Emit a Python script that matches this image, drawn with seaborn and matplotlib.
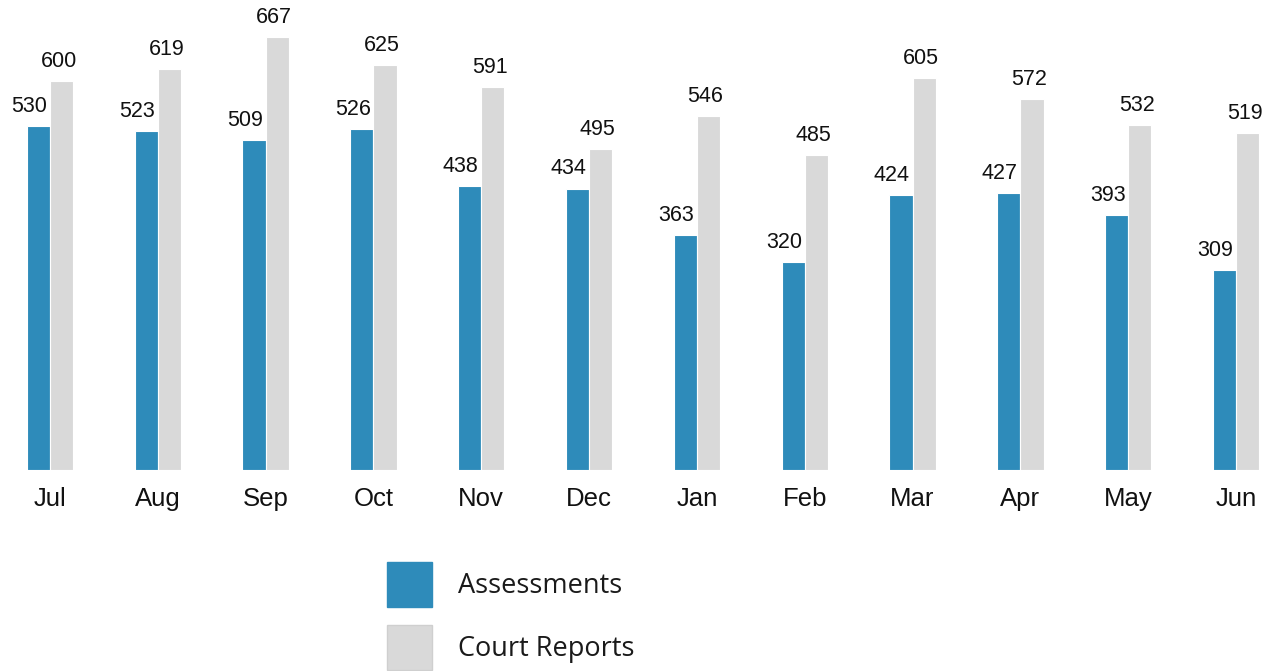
import matplotlib
matplotlib.use("Agg")
import matplotlib.pyplot as plt
import seaborn as sns
import pandas as pd
from matplotlib.patches import Patch

months = ["Jul", "Aug", "Sep", "Oct", "Nov", "Dec", "Jan", "Feb", "Mar", "Apr", "May", "Jun"]
assessments = [530, 523, 509, 526, 438, 434, 363, 320, 424, 427, 393, 309]
court_reports = [600, 619, 667, 625, 591, 495, 546, 485, 605, 572, 532, 519]
series_names = ["Assessments", "Court Reports"]
colors = ["#2E8BBA", "#D9D9D9"]

df = pd.DataFrame({
    "month": months * 2,
    "value": assessments + court_reports,
    "series": [series_names[0]] * len(months) + [series_names[1]] * len(months),
})

sns.set_style("white")
fig = plt.figure(figsize=(12.79, 6.71), dpi=100)
W, H = 1279, 671
ax = fig.add_axes([0, (H - 470) / H, 1, (470 - 16) / H])

sns.barplot(data=df, x="month", y="value", hue="series", palette=colors,
            saturation=1, width=0.43, edgecolor="white", linewidth=0.8,
            legend=False, ax=ax, order=months, hue_order=series_names)

px_per_unit = (1236 - 50) / 11
ax.set_xlim(-50 / px_per_unit, 11 + 43 / px_per_unit)
ax.set_ylim(0, 700)

for c, cont in enumerate(ax.containers):
    vals = assessments if c == 0 else court_reports
    dx = -9 if c == 0 else -3
    for bar, v in zip(cont, vals):
        ax.annotate(f"{v}", (bar.get_x() + bar.get_width() / 2, bar.get_height()),
                    xytext=(dx * 0.72, 6.5), textcoords="offset points",
                    ha="center", va="bottom", fontsize=15.5,
                    family="Liberation Sans", color="#111111", clip_on=False)

for s in ax.spines.values():
    s.set_visible(False)
ax.set_yticks([])
ax.set_xlabel("")
ax.set_ylabel("")
ax.tick_params(axis="x", length=0, pad=12, labelsize=18.5, labelcolor="#111111")
for t in ax.get_xticklabels():
    t.set_fontfamily("Liberation Sans")

handles = [Patch(facecolor=colors[0], edgecolor=colors[0]),
           Patch(facecolor=colors[1], edgecolor="#CFCFCF")]
leg = fig.legend(handles, series_names, loc="upper left",
                 bbox_to_anchor=(387 / W, 1 - 562 / H), bbox_transform=fig.transFigure,
                 frameon=False, borderpad=0, borderaxespad=0,
                 handlelength=1.65, handleheight=2.17, handletextpad=0.98,
                 labelspacing=0.66, prop={"family": "Open Sans", "size": 19.5})
for t in leg.get_texts():
    t.set_color("#1a1a1a")

fig.savefig("out.png", dpi=100)
